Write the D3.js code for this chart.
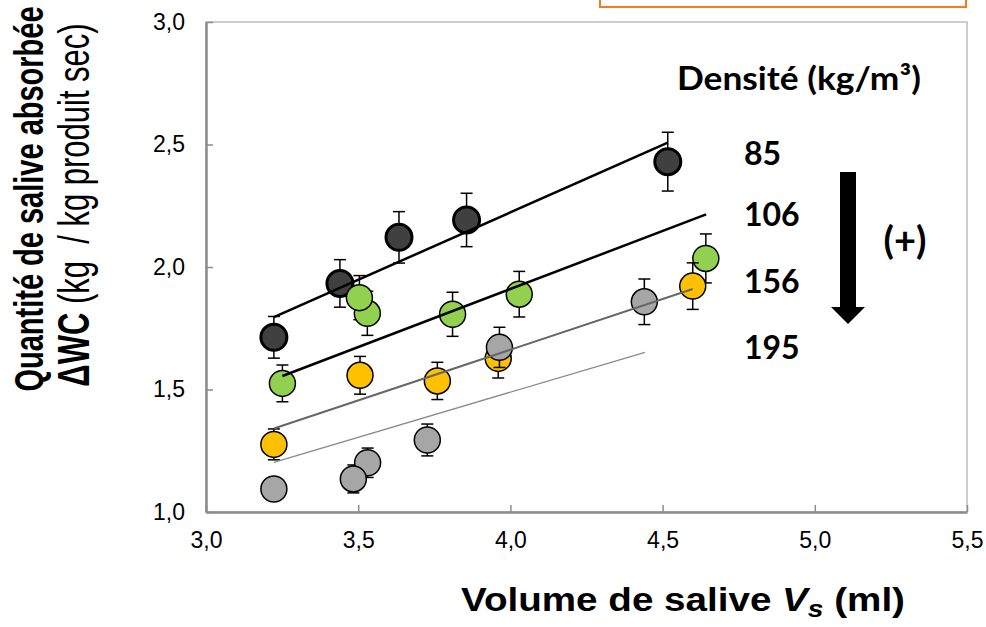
<!DOCTYPE html>
<html>
<head>
<meta charset="utf-8">
<script src="https://cdn.jsdelivr.net/npm/d3@7/dist/d3.min.js"></script>
<style>
  body { margin: 0; background: #fff; }
  .tick text { font-family: "Liberation Sans", Arial, sans-serif; }
</style>
</head>
<body>
<div id="chart"></div>
<script>
// tick labels
const xTicks = [3.0, 3.5, 4.0, 4.5, 5.0, 5.5];
const yTicks = [1.0, 1.5, 2.0, 2.5, 3.0];

// series (density kg/m3)
const densities = ["85", "106", "156", "195"];
const colors = ["#404040", "#92D050", "#FFC000", "#A6A6A6"];

const vs85 = [3.223, 3.440, 3.634, 3.856, 4.517];
const wc85 = [1.713, 1.933, 2.121, 2.192, 2.430];
const err85 = [0.085, 0.097, 0.105, 0.109, 0.120];

const vs106 = [3.251, 3.530, 3.504, 3.810, 4.029, 4.642];
const wc106 = [1.525, 1.811, 1.875, 1.807, 1.889, 2.035];
const err106 = [0.075, 0.090, 0.090, 0.090, 0.093, 0.100];

const vs156 = [3.223, 3.506, 3.760, 3.960, 4.599];
const wc156 = [1.276, 1.558, 1.535, 1.627, 1.922];
const err156 = [0.063, 0.077, 0.076, 0.080, 0.095];

const vs195 = [3.223, 3.531, 3.484, 3.727, 3.964, 4.440];
const wc195 = [1.094, 1.201, 1.135, 1.294, 1.672, 1.858];
const err195 = [0.040, 0.060, 0.057, 0.065, 0.082, 0.093];

// linear trend lines: [x start, y start, x end, y end]
const trend85 = [3.223, 1.795, 4.517, 2.508];
const trend106 = [3.251, 1.555, 4.643, 2.215];
const trend156 = [3.223, 1.341, 4.599, 1.910];
const trend195 = [3.223, 1.203, 4.442, 1.652];

const width = 986, height = 627;
const margin = {top: 22, right: 19, bottom: 115, left: 206};

const svg = d3.select("#chart").append("svg")
    .attr("width", width)
    .attr("height", height);

const x = d3.scaleLinear().domain([3, 5.5]).range([margin.left, width - margin.right]);
const y = d3.scaleLinear().domain([1, 3]).range([height - margin.bottom, margin.top]);
const fmt = d3.format(".1f");
const comma = d => fmt(d).replace(".", ",");

// orange box cut at the top
svg.append("rect")
    .attr("x", 600).attr("y", -10)
    .attr("width", 366).attr("height", 17)
    .attr("fill", "#fff")
    .attr("stroke", "#F47B20")
    .attr("stroke-width", 2);

// plot frame
svg.append("rect")
    .attr("x", x(3)).attr("y", y(3))
    .attr("width", x(5.5) - x(3)).attr("height", y(1) - y(3))
    .attr("fill", "none")
    .attr("stroke", "#BDBDBD")
    .attr("stroke-width", 1.5);

const xAxis = svg.append("g")
    .attr("transform", `translate(0,${y(1)})`)
    .call(d3.axisBottom(x).tickValues(xTicks).tickSizeInner(-7).tickSizeOuter(0).tickPadding(20).tickFormat(comma));
xAxis.select(".domain").attr("stroke", "#8C8C8C").attr("stroke-width", 2.5);
xAxis.selectAll(".tick line").attr("stroke", "#8C8C8C").attr("stroke-width", 1.5);
xAxis.selectAll(".tick text").attr("font-size", 23).attr("fill", "#000");

const yAxis = svg.append("g")
    .attr("transform", `translate(${x(3)},0)`)
    .call(d3.axisLeft(y).tickValues(yTicks).tickSizeInner(-7).tickSizeOuter(0).tickPadding(21).tickFormat(comma));
yAxis.select(".domain").attr("stroke", "#8C8C8C").attr("stroke-width", 2.5);
yAxis.selectAll(".tick line").attr("stroke", "#8C8C8C").attr("stroke-width", 1.5);
yAxis.selectAll(".tick text").attr("font-size", 23).attr("fill", "#000");

const series = [
    {vs: vs85, wc: wc85, err: err85, color: colors[0], sw: 3},
    {vs: vs106, wc: wc106, err: err106, color: colors[1], sw: 1.5},
    {vs: vs156, wc: wc156, err: err156, color: colors[2], sw: 1.5},
    {vs: vs195, wc: wc195, err: err195, color: colors[3], sw: 1.5}
];

series.forEach(function(s) {
    let pts = s.vs.map((v, i) => ({v: v, w: s.wc[i], e: s.err[i]}));
    let g = svg.append("g");
    let eb = g.selectAll(".eb").data(pts).enter().append("g")
        .attr("stroke", "#000").attr("stroke-width", 1.5);
    eb.append("line")
        .attr("x1", d => x(d.v)).attr("x2", d => x(d.v))
        .attr("y1", d => y(d.w - d.e)).attr("y2", d => y(d.w + d.e));
    eb.append("line")
        .attr("x1", d => x(d.v) - 6).attr("x2", d => x(d.v) + 6)
        .attr("y1", d => y(d.w + d.e)).attr("y2", d => y(d.w + d.e));
    eb.append("line")
        .attr("x1", d => x(d.v) - 6).attr("x2", d => x(d.v) + 6)
        .attr("y1", d => y(d.w - d.e)).attr("y2", d => y(d.w - d.e));
    g.selectAll("circle").data(pts).enter().append("circle")
        .attr("cx", d => x(d.v))
        .attr("cy", d => y(d.w))
        .attr("r", 13)
        .attr("fill", s.color)
        .attr("stroke", "#000")
        .attr("stroke-width", s.sw);
});

const trends = [
    {t: trend85, c: "#000", w: 2.5},
    {t: trend106, c: "#000", w: 2.5},
    {t: trend156, c: "#666", w: 2},
    {t: trend195, c: "#8a8a8a", w: 1.3}
];
svg.append("g").selectAll("line").data(trends).enter().append("line")
    .attr("x1", d => x(d.t[0])).attr("y1", d => y(d.t[1]))
    .attr("x2", d => x(d.t[2])).attr("y2", d => y(d.t[3]))
    .attr("stroke", d => d.c)
    .attr("stroke-width", d => d.w);

// legend
const legFont = "Lato, 'Open Sans', sans-serif";
svg.append("text")
    .attr("transform", "translate(677,90) scale(1.07,1)")
    .attr("font-family", legFont).attr("font-weight", "bold").attr("font-size", 33)
    .text("Densité (kg/m³)");

const labelY = [165, 226, 293, 359];
svg.append("g").selectAll("text").data(densities).enter().append("text")
    .attr("x", 744).attr("y", (d, i) => labelY[i])
    .attr("font-family", legFont).attr("font-weight", "bold").attr("font-size", 32)
    .text(d => d);

// arrow
svg.append("rect").attr("x", 840).attr("y", 172).attr("width", 16).attr("height", 137).attr("fill", "#000");
svg.append("path").attr("d", "M831,307 L865,307 L848,324 Z").attr("fill", "#000");

svg.append("text")
    .attr("x", 905).attr("y", 254)
    .attr("text-anchor", "middle")
    .attr("font-family", legFont).attr("font-weight", "bold").attr("font-size", 38)
    .text("(+)");

// axis titles
const titleFont = "'Liberation Sans', Arial, sans-serif";
const xt = svg.append("text")
    .attr("transform", "translate(683,611) scale(1.17,1)")
    .attr("text-anchor", "middle")
    .attr("font-family", titleFont).attr("font-weight", "bold").attr("font-size", 33);
xt.append("tspan").text("Volume de salive ");
xt.append("tspan").attr("font-style", "italic").text("V");
xt.append("tspan").attr("font-style", "italic").attr("font-size", 24).attr("dy", 6).text("s");
xt.append("tspan").attr("dy", -6).text(" (ml)");

svg.append("text")
    .attr("transform", "translate(43,199) rotate(-90) scale(1,1.38)")
    .attr("text-anchor", "middle")
    .attr("font-family", titleFont).attr("font-weight", "bold").attr("font-size", 29)
    .text("Quantité de salive absorbée");

const yt2 = svg.append("text")
    .attr("transform", "translate(89,205) rotate(-90) scale(1,1.42)")
    .attr("text-anchor", "middle")
    .attr("font-family", titleFont).attr("font-size", 31)
    .attr("xml:space", "preserve");
yt2.append("tspan").attr("font-weight", "bold").text("ΔWC");
yt2.append("tspan").text(" (kg  / kg produit sec)");
</script>
</body>
</html>
